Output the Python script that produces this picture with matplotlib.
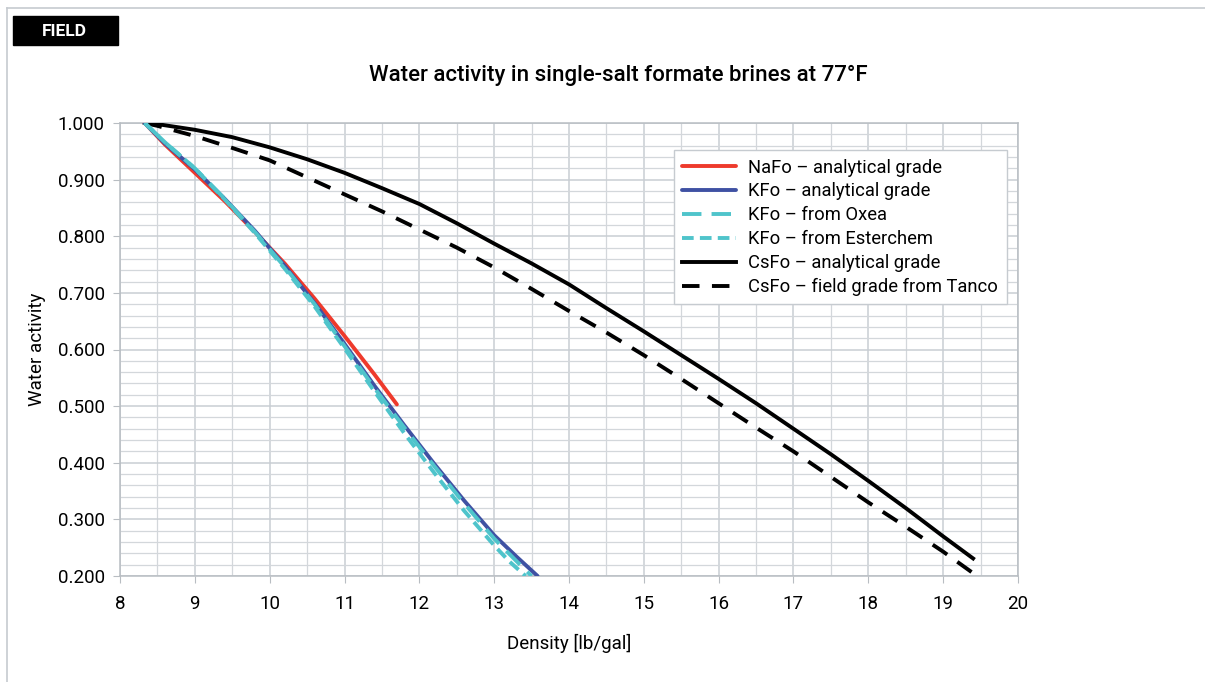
import matplotlib.pyplot as plt
import matplotlib.ticker as ticker
from matplotlib.lines import Line2D
from matplotlib.patches import Rectangle

plt.rcParams['font.family'] = ['Roboto', 'DejaVu Sans']

# NaFo - analytical grade
nafo_x = [8.33, 8.6, 9.0, 9.4, 9.8, 10.2, 10.6, 11.0, 11.4, 11.7]
nafo_y = [1.000, 0.962, 0.912, 0.862, 0.808, 0.752, 0.690, 0.624, 0.556, 0.503]

# KFo - analytical grade
kfo_x = [8.33, 8.6, 9.0, 9.4, 9.8, 10.2, 10.6, 11.0, 11.4, 11.8, 12.2, 12.6, 13.0, 13.3, 13.58]
kfo_y = [1.000, 0.964, 0.918, 0.866, 0.810, 0.748, 0.682, 0.610, 0.536, 0.466, 0.398, 0.333, 0.272, 0.234, 0.200]

# KFo - from Oxea
oxea_x = [8.33, 8.6, 9.0, 9.4, 9.8, 10.2, 10.6, 11.0, 11.4, 11.8, 12.2, 12.6, 13.0, 13.3, 13.5]
oxea_y = [1.000, 0.966, 0.920, 0.866, 0.808, 0.746, 0.680, 0.606, 0.532, 0.462, 0.394, 0.328, 0.266, 0.226, 0.200]

# KFo - from Esterchem
ester_x = [8.33, 8.6, 9.0, 9.4, 9.8, 10.2, 10.6, 11.0, 11.4, 11.8, 12.2, 12.6, 13.0, 13.2, 13.42]
ester_y = [1.000, 0.966, 0.920, 0.865, 0.806, 0.743, 0.676, 0.602, 0.526, 0.452, 0.382, 0.315, 0.254, 0.226, 0.200]

# CsFo - analytical grade
csfo_x = [8.33, 8.5, 9.0, 9.5, 10.0, 10.5, 11.0, 11.5, 12.0, 12.5, 13.0, 13.5,
          14.0, 14.5, 15.0, 15.5, 16.0, 16.5, 17.0, 17.5, 18.0, 18.5, 19.0, 19.4]
csfo_y = [1.000, 0.998, 0.988, 0.975, 0.957, 0.936, 0.912, 0.885, 0.857, 0.823, 0.787, 0.752,
          0.715, 0.673, 0.632, 0.590, 0.548, 0.505, 0.460, 0.415, 0.368, 0.320, 0.270, 0.231]

# CsFo - field grade from Tanco
tanco_x = [8.33, 8.5, 9.0, 9.5, 10.0, 10.5, 11.0, 11.5, 12.0, 12.5, 13.0, 13.5,
           14.0, 14.5, 15.0, 15.5, 16.0, 16.5, 17.0, 17.5, 18.0, 18.5, 19.0, 19.4]
tanco_y = [1.000, 0.995, 0.977, 0.956, 0.934, 0.904, 0.874, 0.844, 0.812, 0.780, 0.745, 0.707,
           0.668, 0.630, 0.590, 0.548, 0.505, 0.462, 0.420, 0.375, 0.330, 0.287, 0.243, 0.205]

fig = plt.figure(figsize=(12.05, 6.82), dpi=100)
ax = fig.add_axes([120 / 1205, 1 - 576 / 682, 898 / 1205, 453 / 682])

lw = 2.8
ax.plot(nafo_x, nafo_y, color='#ee3a2c', lw=lw, solid_capstyle='round', solid_joinstyle='round',
        label='NaFo – analytical grade', zorder=3)
ax.plot(kfo_x, kfo_y, color='#3f51a3', lw=lw, solid_capstyle='round', solid_joinstyle='round',
        label='KFo – analytical grade', zorder=4)
ax.plot(oxea_x, oxea_y, color='#4fc4cb', lw=lw, dashes=(5, 2.6), label='KFo – from Oxea', zorder=5)
ax.plot(ester_x, ester_y, color='#4fc4cb', lw=lw, dashes=(3, 1.6), label='KFo – from Esterchem', zorder=5)
ax.plot(csfo_x, csfo_y, color='black', lw=lw, solid_joinstyle='round',
        label='CsFo – analytical grade', zorder=3)
ax.plot(tanco_x, tanco_y, color='black', lw=lw, dashes=(4.5, 3.2),
        label='CsFo – field grade from Tanco', zorder=3)

ax.set_xlim(8, 20)
ax.set_ylim(0.2, 1.0)
ax.xaxis.set_major_locator(ticker.MultipleLocator(1))
ax.xaxis.set_minor_locator(ticker.MultipleLocator(0.5))
ax.yaxis.set_major_locator(ticker.MultipleLocator(0.1))
ax.yaxis.set_minor_locator(ticker.MultipleLocator(0.02))
ax.yaxis.set_major_formatter(ticker.FormatStrFormatter('%.3f'))

ax.grid(which='major', color='#c9ced3', lw=1.1, zorder=0)
ax.grid(which='minor', color='#d3d7db', lw=0.9, zorder=0)
ax.set_axisbelow(True)
for s in ax.spines.values():
    s.set_color('#b8bdc2')
    s.set_linewidth(1.1)
ax.tick_params(which='major', length=5, color='#b8bdc2', labelsize=13.5)
ax.tick_params(axis='x', pad=9)
ax.tick_params(axis='y', pad=6)
ax.tick_params(which='minor', length=0)

ax.set_xlabel('Density [lb/gal]', fontsize=13.5, labelpad=15)
ax.set_ylabel('Water activity', fontsize=13.5, labelpad=8)
fig.text(618 / 1205, 1 - 75 / 682, 'Water activity in single-salt formate brines at 77°F',
         ha='center', va='center', fontsize=16, fontweight='medium')

leg = ax.legend(loc='upper right', bbox_to_anchor=(0.9975, 0.96), fontsize=13.2, handlelength=2.9,
                fancybox=False, framealpha=1, edgecolor='#c6cbd0', borderpad=0.45,
                labelspacing=0.32, handletextpad=0.7)
leg.get_frame().set_linewidth(1.0)

# outer frame and FIELD tag
fig.add_artist(Line2D([7 / 1205, 1], [1 - 8 / 682, 1 - 8 / 682], color='#c6cbd0', lw=1.2))
fig.add_artist(Line2D([7 / 1205, 7 / 1205], [0, 1 - 8 / 682], color='#c6cbd0', lw=1.2))
fig.add_artist(Rectangle((13 / 1205, 1 - 45 / 682), 105 / 1205, 29 / 682, color='black',
                         transform=fig.transFigure))
fig.text(64 / 1205, 1 - 31 / 682, 'FIELD', color='white', fontsize=12.5, fontweight='bold',
         ha='center', va='center')

fig.savefig('out.png', dpi=100)
